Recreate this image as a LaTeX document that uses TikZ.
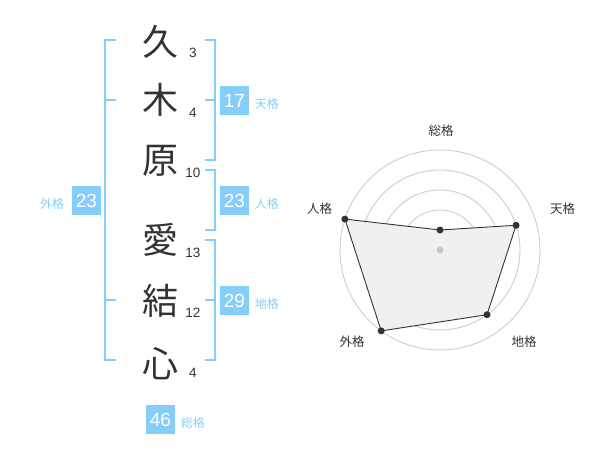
\documentclass[tikz,border=0pt]{standalone}
\usepackage{fontspec}
\setmainfont{Liberation Sans}
\newfontfamily\jp{Noto Sans CJK JP}
\usetikzlibrary{positioning}
\definecolor{kaku}{HTML}{86CEFA}
\definecolor{ink}{HTML}{333333}
\definecolor{ringgray}{HTML}{CCCCCC}
\definecolor{webfill}{HTML}{F0F0F0}
\definecolor{midgray}{HTML}{C8C8C8}
\tikzset{
  kanji/.style={font=\jp\fontsize{36}{36}\selectfont, text=ink, inner sep=0pt},
  strokes/.style={font=\fontsize{13.5}{13.5}\selectfont, text=ink, inner sep=0pt},
  score/.style={fill=kaku, text=white, minimum size=29pt, inner sep=0pt, font=\fontsize{19}{19}\selectfont},
  tag/.style={font=\jp\fontsize{12}{12}\selectfont, text=kaku, inner sep=0pt},
  bracket/.style={draw=kaku, line width=2pt},
  ring/.style={draw=ringgray, line width=0.9pt},
  web/.style={draw=ink, fill=webfill, line width=0.9pt},
  dot/.style={circle, fill=ink, minimum size=7pt, inner sep=0pt},
  axis/.style={font=\jp\fontsize{12.5}{12.5}\selectfont, text=ink, inner sep=0pt}
}
\begin{document}
\begin{tikzpicture}[x=1pt, y=-1pt]
  \useasboundingbox (0,0) rectangle (600,470);
  % name
  \draw
    (160,42) node[kanji] (ku) {久}
    (160,100) node[kanji] (ki) {木}
    (160,161) node[kanji] (hara) {原}
    (160,240) node[kanji] (ai) {愛}
    (160,301) node[kanji] (musubi) {結}
    (160,364) node[kanji] (kokoro) {心};
  % stroke counts
  \draw
    (193,52.5) node[strokes] (n1) {3}
    (193,113) node[strokes] (n2) {4}
    (193,172.5) node[strokes] (n3) {10}
    (193,252.5) node[strokes] (n4) {13}
    (193,312.5) node[strokes] (n5) {12}
    (193,373) node[strokes] (n6) {4};
  % brackets
  \begin{scope}[bracket]
    \draw (116,40) -- (105,40) -- (105,360) -- (116,360);
    \draw (105,100) -- (116,100);
    \draw (105,300) -- (116,300);
    \draw (205,40) -- (215,40) -- (215,160) -- (205,160);
    \draw (205,100) -- (215,100);
    \draw (205,170) -- (215,170) -- (215,230) -- (205,230);
    \draw (205,240) -- (215,240) -- (215,360) -- (205,360);
    \draw (205,300) -- (215,300);
  \end{scope}
  % scores
  \node[score] (ten) at (234.5,100.5) {17};
  \node[tag, right=5.5pt of ten, yshift=-3.5pt] (tenl) {天格};
  \node[score] (jin) at (234.5,200.5) {23};
  \node[tag, right=5.5pt of jin, yshift=-3.5pt] (jinl) {人格};
  \node[score] (chi) at (234.5,300.5) {29};
  \node[tag, right=5.5pt of chi, yshift=-3.5pt] (chil) {地格};
  \node[score] (gai) at (86.5,200.5) {23};
  \node[tag, left=7.5pt of gai, yshift=-3.5pt] (gail) {外格};
  \node[score] (sou) at (160.5,419.5) {46};
  \node[tag, right=5.5pt of sou, yshift=-3.5pt] (soul) {総格};
  % radar
  \begin{scope}[shift={(440,250)}, yscale=-1]
    \foreach \r in {20,40,...,100}
      \draw[ring] (0,0) circle[radius=\r];
    \coordinate (so) at (90:20);
    \coordinate (te) at (18:80);
    \coordinate (ch) at (-54:80);
    \coordinate (ga) at (-126:100);
    \coordinate (ji) at (162:100);
    \filldraw[web] (so) -- (te) -- (ch) -- (ga) -- (ji) -- cycle;
    \foreach \p in {so,te,ch,ga,ji}
      \node[dot] (d\p) at (\p) {};
    \node[dot, fill=midgray] (mid) at (0,0) {};
  \end{scope}
  \node[axis] (aso) at (441,130.5) {総格};
  \node[axis] (ate) at (562.5,208.5) {天格};
  \node[axis] (ach) at (524,342) {地格};
  \node[axis] (aga) at (352,342) {外格};
  \node[axis] (aji) at (319.5,208.5) {人格};
\end{tikzpicture}
\end{document}
